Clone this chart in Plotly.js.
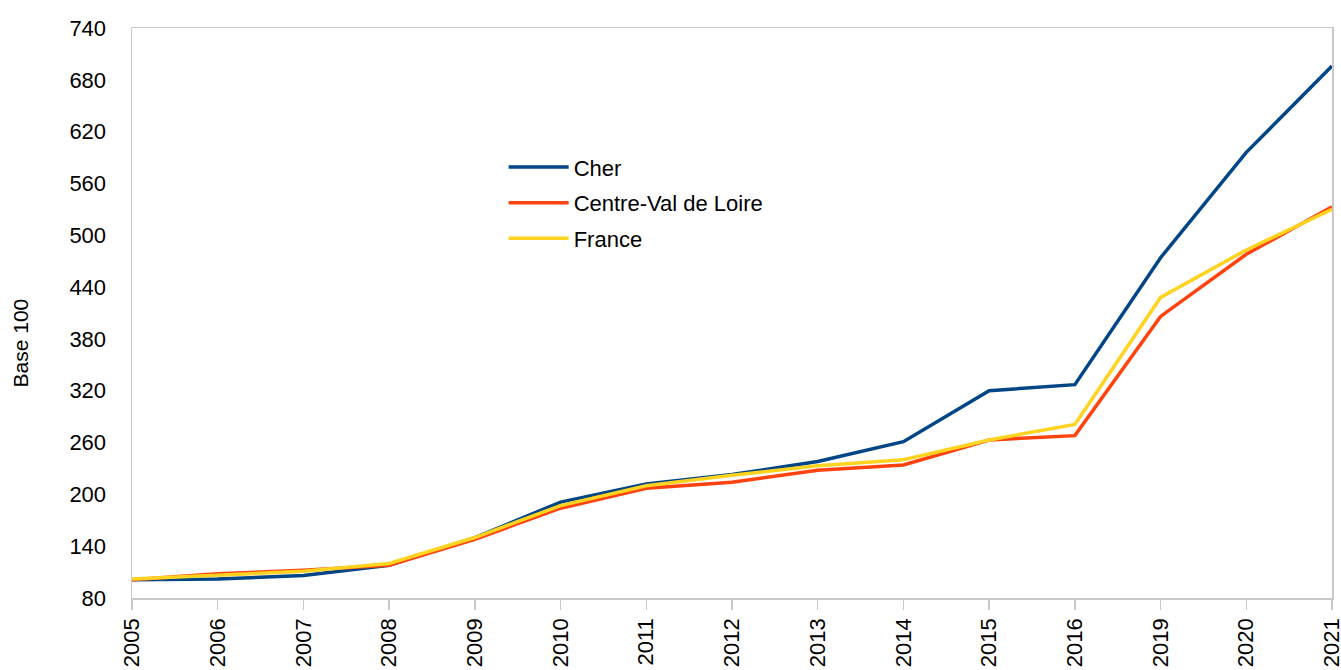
<!DOCTYPE html>
<html>
<head>
<meta charset="utf-8">
<script src="https://cdn.plot.ly/plotly-3.0.1.min.js"></script>
<style>html,body{margin:0;padding:0;background:#fff;}#chart{width:1341px;height:670px;}</style>
</head>
<body>
<div id="chart"></div>
<script>
const years = ["2005","2006","2007","2008","2009","2010","2011","2012","2013","2014","2015","2016","2019","2020","2021"];
const cher = [101,102,106,118,150,191,212,223,238,261,320,327,474,596,696];
const centreValDeLoire = [101,108,112,118,148,184,207,214,228,234,263,268,406,478,533];
const france = [102,106,111,120,150,187,210,222,233,240,263,281,428,483,530];
const yTicks = [80,140,200,260,320,380,440,500,560,620,680,740];
const yTitle = 'Base 100';

const font = "Liberation Sans, Arial, sans-serif";
function tr(name, y, color){
  return {type:'scatter', mode:'lines', name:name, x:years, y:y, legendgroup:name,
    line:{color:color, width:3.5}, hoverinfo:'skip'};
}
const data = [
  tr('Cher', cher, '#004586'),
  tr('Centre-Val de Loire', centreValDeLoire, '#ff420e'),
  tr('France', france, '#ffd320')
];
const layout = {
  width:1341, height:670,
  margin:{l:132, r:9, t:28, b:72},
  paper_bgcolor:'#fff', plot_bgcolor:'#fff',
  font:{family:font, size:22, color:'#000'},
  showlegend:true,
  legend:{x:0.3097, y:0.7925, xanchor:'left', yanchor:'top', bgcolor:'rgba(0,0,0,0)',
    tracegroupgap:4, itemwidth:60,
    font:{family:font, size:22, color:'#000'}},
  xaxis:{type:'category', categoryarray:years, range:[0,14], tickangle:-90,
    showgrid:false, zeroline:false, showline:true, linecolor:'#c8c8c8', linewidth:1.5,
    mirror:true, ticks:'outside', ticklen:10, tickcolor:'#c8c8c8', tickwidth:1.5,
    ticklabelstandoff:0,
    tickfont:{family:font, size:22, color:'#000'}},
  yaxis:{range:[80,740], tickvals:yTicks, ticktext:yTicks.map(String),
    showgrid:false, zeroline:false, showline:true, linecolor:'#c8c8c8', linewidth:1.5,
    mirror:true, ticks:'', ticklabelstandoff:20,
    tickfont:{family:font, size:22, color:'#000'}},
  annotations:[{text:yTitle, xref:'paper', yref:'paper', x:(20-132)/1200, y:(598.5-344)/570,
    xanchor:'center', yanchor:'middle', textangle:-90, showarrow:false,
    font:{family:font, size:21, color:'#000'}}]
};
Plotly.newPlot('chart', data, layout, {staticPlot:true, displayModeBar:false});
</script>
</body>
</html>
